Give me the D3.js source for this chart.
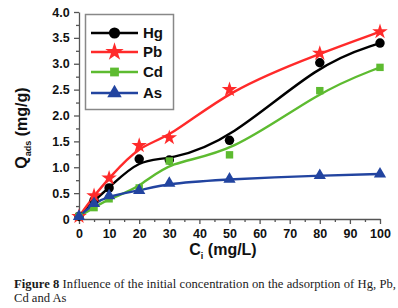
<!DOCTYPE html>
<html>
<head>
<meta charset="utf-8">
<script src="https://cdn.jsdelivr.net/npm/d3@7"></script>
<style>
  body { margin: 0; background: #fff; }
  svg { display: block; }
</style>
</head>
<body>
<svg id="chart" width="398" height="308"></svg>
<script>
// Valeurs
const concentrations = [0, 5, 10, 20, 30, 50, 80, 100];
const hgValues = [0.05, 0.36, 0.6, 1.16, 1.14, 1.52, 3.02, 3.4];
const pbValues = [0.05, 0.45, 0.79, 1.42, 1.57, 2.5, 3.2, 3.62];
const cdValues = [0.05, 0.22, 0.39, 0.6, 1.12, 1.24, 2.48, 2.93];
const asValues = [0.05, 0.3, 0.45, 0.55, 0.69, 0.77, 0.84, 0.87];
const seriesNames = ["Hg", "Pb", "Cd", "As"];
const seriesColors = ["#000000", "#ff2a2a", "#5dbb30", "#2244a0"];
const xTicks = [0, 10, 20, 30, 40, 50, 60, 70, 80, 90, 100];
const yTicks = [0, 0.5, 1.0, 1.5, 2.0, 2.5, 3.0, 3.5, 4.0];

const svg = d3.select("#chart");
const margin = { left: 79, right: 18, top: 12, bottom: 89 };

const x = d3.scaleLinear().domain([0, 100]).range([margin.left, 380]);
const y = d3.scaleLinear().domain([0, 4]).range([219, margin.top]);

const series = [hgValues, pbValues, cdValues, asValues].map((vals, i) => ({
    name: seriesNames[i],
    color: seriesColors[i],
    values: concentrations.map((c, j) => ({ c: c, q: vals[j] }))
}));

const symbolTypes = [d3.symbolCircle, d3.symbolStar, d3.symbolSquare, d3.symbolTriangle];
const symbolSizes = [70, 75, 55, 65];

// axes
const axisFont = "Arial, 'Liberation Sans', sans-serif";

const xAxis = svg.append("g").attr("transform", `translate(0,${y(0)})`)
    .call(d3.axisBottom(x).tickValues(xTicks).tickFormat(d3.format("d")).tickSize(5).tickSizeOuter(0));
svg.append("g").attr("transform", `translate(0,${y(0)})`)
    .call(d3.axisBottom(x).tickValues(d3.range(5, 100, 10)).tickFormat("").tickSize(3).tickSizeOuter(0))
    .select(".domain").remove();

const yAxis = svg.append("g").attr("transform", `translate(${x(0)},0)`)
    .call(d3.axisLeft(y).tickValues(yTicks).tickFormat(d => d === 0 ? "0" : d3.format(".1f")(d)).tickSize(5).tickSizeOuter(0));
svg.append("g").attr("transform", `translate(${x(0)},0)`)
    .call(d3.axisLeft(y).tickValues(d3.range(0.25, 4, 0.5)).tickFormat("").tickSize(3).tickSizeOuter(0))
    .select(".domain").remove();

svg.selectAll(".domain, .tick line").attr("stroke", "#555").attr("stroke-width", 1.3);
svg.selectAll(".tick text")
    .attr("fill", "#111").style("font-family", axisFont).style("font-size", "12.5px").style("font-weight", "bold");
xAxis.selectAll(".tick text").attr("dy", "0.85em");
yAxis.selectAll(".tick text").attr("dx", "-0.1em");

// titres des axes
svg.append("text")
    .attr("transform", `translate(27,128) rotate(-90)`)
    .attr("text-anchor", "middle")
    .style("font-family", axisFont).style("font-size", "16px").style("font-weight", "bold")
    .attr("fill", "#111")
    .html('Q<tspan dy="4" font-size="9px">ads</tspan><tspan dy="-4"> (mg/g)</tspan>');

svg.append("text")
    .attr("x", 223).attr("y", 255)
    .attr("text-anchor", "middle")
    .style("font-family", axisFont).style("font-size", "16px").style("font-weight", "bold")
    .attr("fill", "#111")
    .html('C<tspan dy="4" font-size="9px">i</tspan><tspan dy="-4"> (mg/L)</tspan>');

// courbes
const line = d3.line().x(d => x(d.c)).y(d => y(d.q)).curve(d3.curveBasis);

svg.selectAll(".serie").data(series).enter().append("path")
    .attr("class", "serie")
    .attr("fill", "none")
    .attr("stroke", d => d.color)
    .attr("stroke-width", 2.4)
    .attr("d", d => line(d.values));

series.forEach((s, i) => {
    svg.selectAll(".pt" + i).data(s.values).enter().append("path")
        .attr("class", "pt" + i)
        .attr("transform", d => `translate(${x(d.c)},${y(d.q)})`)
        .attr("d", d3.symbol().type(symbolTypes[i]).size(symbolSizes[i]))
        .attr("fill", s.color);
});

// légende
const legend = svg.append("g");
legend.append("rect")
    .attr("x", 85.5).attr("y", 14.5).attr("width", 88).attr("height", 95)
    .attr("fill", "#fff").attr("stroke", "#888").attr("stroke-width", 1.5);

series.forEach((s, i) => {
    const ly = [33, 52, 72, 93][i];
    legend.append("line")
        .attr("x1", 91).attr("x2", 138).attr("y1", ly).attr("y2", ly)
        .attr("stroke", s.color).attr("stroke-width", 2.4);
    legend.append("path")
        .attr("transform", `translate(114.5,${ly})`)
        .attr("d", d3.symbol().type(symbolTypes[i]).size(symbolSizes[i] * 1.4))
        .attr("fill", s.color);
    legend.append("text")
        .attr("x", 143).attr("y", ly).attr("dy", "0.36em")
        .style("font-family", axisFont).style("font-size", "15px").style("font-weight", "bold")
        .attr("fill", "#111")
        .text(s.name);
});

// légende de la figure
const captionFont = "'Liberation Serif', 'Times New Roman', serif";
const caption = svg.append("text")
    .attr("x", 14).attr("y", 288)
    .attr("textLength", 382).attr("lengthAdjust", "spacing")
    .style("font-family", captionFont).style("font-size", "12.6px")
    .attr("fill", "#1a1a1a");
caption.append("tspan").attr("font-weight", "bold").text("Figure 8");
caption.append("tspan").text(" Influence of the initial concentration on the adsorption of Hg, Pb,");

svg.append("text")
    .attr("x", 14).attr("y", 302)
    .style("font-family", captionFont).style("font-size", "12.6px")
    .attr("fill", "#1a1a1a")
    .text("Cd and As");
</script>
</body>
</html>
